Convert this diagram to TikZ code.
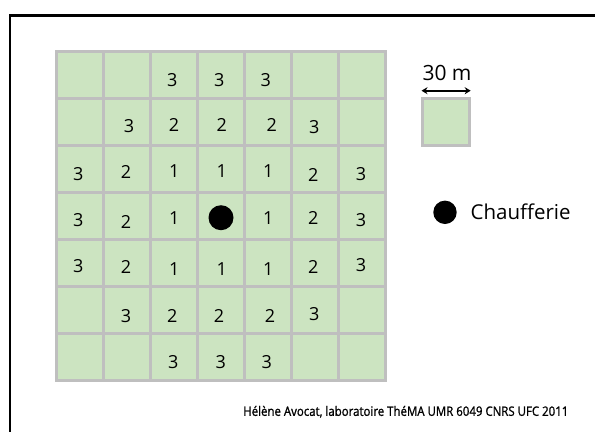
\documentclass[tikz,border=0pt]{standalone}
\usepackage{fontspec}
\setmainfont{Open Sans}[Numbers=Lining]
\usetikzlibrary{arrows.meta}
\definecolor{cellgreen}{RGB}{204,228,193}
\definecolor{cellgray}{RGB}{191,191,191}
\tikzset{
  cell/.style={draw=cellgray, fill=cellgreen, line width=3pt, minimum size=47pt, inner sep=0pt, outer sep=0pt},
  num/.style={inner sep=0pt, font=\fontsize{18}{20}\selectfont},
  bigdot/.style={circle, fill=black, inner sep=0pt},
  frameline/.style={line width=2.7pt, line join=miter},
  scalearrow/.style={line width=1.8pt, {Stealth[length=6pt,width=7pt]}-{Stealth[length=6pt,width=7pt]}}
}
\begin{document}
\begin{tikzpicture}[x=1pt,y=-1pt]
\useasboundingbox (0,0) rectangle (595,432);
% frame
\coordinate (ftr) at (595,15.3);
\coordinate (ftl) at (10,15.3);
\coordinate (fbl) at (10,432);
\draw[frameline] (ftr) -- (ftl) -- (fbl);
% grid
\foreach \r in {1,...,7}{
  \foreach \c in {1,...,7}{
    \node[cell] (c-\r-\c) at ({56.5+47*(\c-0.5)},{51.5+47*(\r-0.5)}) {};
  }
}
% numbers
\foreach \x/\y/\t/\n in {
  172.3/80/3/a1, 219.3/80/3/a2, 265.7/80/3/a3,
  129/126/3/b1, 174/125/2/b2, 221.7/125/2/b3, 271.7/125/2/b4, 314.3/126.7/3/b5,
  78.3/174.3/3/d1, 126/171.7/2/d2, 174.3/171/1/d3, 221.7/171/1/d4, 268.3/171/1/d5, 313.3/175/2/d6, 361/174.3/3/d7,
  78.3/220/3/e1, 126/221.7/2/e2, 174.3/217.7/1/e3, 268.3/217.7/1/e5, 313.3/217.7/2/e6, 361/220/3/e7,
  78.3/266/3/f1, 126/266.7/2/f2, 174.3/269.3/1/f3, 221.7/269.3/1/f4, 268.3/269.3/1/f5, 313.3/266.7/2/f6, 361/265/3/f7,
  126/316/3/g1, 172.3/316/2/g2, 219/316/2/g3, 270/316/2/g4, 314.3/314/3/g5,
  173.3/362.3/3/h1, 220.7/362.3/3/h2, 266.7/362.3/3/h3}
  {\node[num] (\n) at (\x,\y) {\t};}
% boiler house
\node[bigdot, minimum size=25pt] (boiler) at (221,217.7) {};
% legend
\node[cell] (legcell) at (446,122) {};
\coordinate (arrL) at (421.5,90.7);
\coordinate (arrR) at (470.7,90.7);
\draw[scalearrow] (arrL) -- (arrR);
\node[anchor=base, inner sep=0pt, font=\fontsize{21}{24}\selectfont] (scale) at (447,80) {30 m};
\node[bigdot, minimum size=23.4pt] (legdot) at (445,212.3) {};
\node[anchor=base west, inner sep=0pt, font=\fontsize{20.5}{24}\selectfont] (legtext) at (470.5,219) {Chaufferie};
% credit
\node[inner sep=0pt] (credit) at (405.8,411.7) {\resizebox{325pt}{\height}{\fontsize{13}{15}\selectfont\addfontfeature{FakeBold=1.2}Hélène Avocat, laboratoire ThéMA UMR 6049 CNRS UFC 2011}};
\end{tikzpicture}
\end{document}
